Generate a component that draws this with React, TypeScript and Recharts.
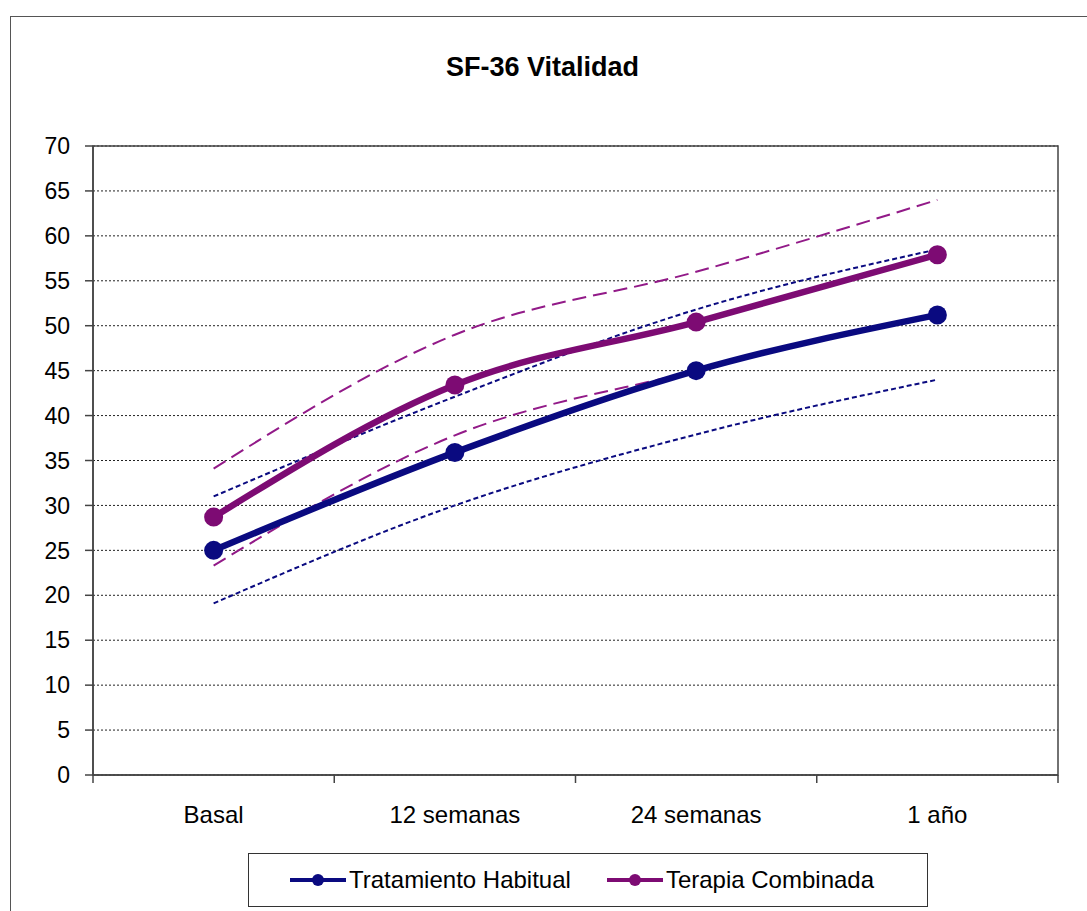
import { CartesianGrid, Line, LineChart, ReferenceArea, XAxis, YAxis } from "recharts";

// SF-36 vitality scores with confidence bands per visit
const categories = ["Basal", "12 semanas", "24 semanas", "1 año"];
const habitual = [25.0, 35.9, 45.0, 51.2];
const habitualUpper = [31.0, 42.1, 51.8, 58.5];
const habitualLower = [19.1, 30.0, 37.9, 44.0];
const combinada = [28.7, 43.4, 50.4, 57.9];
const combinadaUpper = [34.1, 49.0, 56.0, 64.0];
const combinadaLower = [23.3, 37.8, 45.0, 51.4];
const yTicks = [0, 5, 10, 15, 20, 25, 30, 35, 40, 45, 50, 55, 60, 65, 70];

const NAVY = "#0a0a80";
const PLUM = "#7d0b73";
const FONT = "'Liberation Sans', Arial, sans-serif";
const AXIS = "#444";

const rows = categories.map((name, i) => ({
  name,
  habitual: habitual[i],
  habitualUpper: habitualUpper[i],
  habitualLower: habitualLower[i],
  combinada: combinada[i],
  combinadaUpper: combinadaUpper[i],
  combinadaLower: combinadaLower[i],
}));

// category label centred in its band, with tick marks on the band edges
function CategoryTick(props: any) {
  const { x, y, payload, index } = props;
  const half = payload.offset || 0;
  const last = index === categories.length - 1;
  const top = y - 2;
  return (
    <g>
      <line x1={x - half} y1={top} x2={x - half} y2={top + 8} stroke={AXIS} strokeWidth={1.5} />
      {last && <line x1={x + half} y1={top} x2={x + half} y2={top + 8} stroke={AXIS} strokeWidth={1.5} />}
      <text x={x} y={y + 29} dy="0.71em" textAnchor="middle" fill="#000" fontSize={24} fontFamily={FONT}>
        {payload.value}
      </text>
    </g>
  );
}

function LegendIcon({ color }: { color: string }) {
  return (
    <svg width={56} height={20} style={{ display: "block" }}>
      <line x1={0} y1={10} x2={56} y2={10} stroke={color} strokeWidth={4} />
      <circle cx={28} cy={10} r={6} fill={color} />
    </svg>
  );
}

export default function App() {
  return (
    <div style={{ position: "relative", width: 1087, height: 911, fontFamily: FONT, background: "#fff" }}>
      <style>{"body{margin:0;overflow:hidden}"}</style>
      <div
        style={{
          position: "absolute",
          left: 10,
          top: 16,
          width: 1100,
          height: 920,
          border: "1.5px solid #555",
          boxSizing: "border-box",
        }}
      />
      <div
        style={{
          position: "absolute",
          left: 0,
          width: 1087,
          top: 52,
          textAlign: "center",
          fontWeight: "bold",
          fontSize: 27,
          color: "#000",
        }}
      >
        <span style={{ marginLeft: -2 }}>SF-36 Vitalidad</span>
      </div>

      <LineChart
        width={1087}
        height={911}
        data={rows}
        margin={{ top: 146, right: 29, left: 33, bottom: 76 }}
        style={{ position: "absolute", left: 0, top: 0 }}
      >
        <CartesianGrid xAxisId="cat" yAxisId="v" vertical={false} stroke="#222" strokeDasharray="2 2" />
        <ReferenceArea yAxisId="v" xAxisId="cat" y1={0} y2={70} fill="none" stroke={AXIS} strokeWidth={1.5} ifOverflow="visible" />
        <XAxis
          xAxisId="cat"
          dataKey="name"
          scale="band"
          height={60}
          interval={0}
          tickLine={false}
          tickSize={0}
          stroke={AXIS}
          strokeWidth={1.5}
          tick={<CategoryTick />}
        />
        <YAxis
          yAxisId="v"
          width={60}
          domain={[0, 70]}
          ticks={yTicks}
          interval={0}
          tickSize={8}
          tickMargin={15}
          stroke={AXIS}
          strokeWidth={1.5}
          tick={{ fill: "#000", fontSize: 23, fontFamily: FONT }}
        />

        <Line
          xAxisId="cat"
          yAxisId="v"
          type="monotone"
          dataKey="habitualUpper"
          stroke={NAVY}
          strokeWidth={2}
          strokeDasharray="5 3"
          dot={false}
          isAnimationActive={false}
        />
        <Line
          xAxisId="cat"
          yAxisId="v"
          type="monotone"
          dataKey="habitualLower"
          stroke={NAVY}
          strokeWidth={2}
          strokeDasharray="5 3"
          dot={false}
          isAnimationActive={false}
        />
        <Line
          xAxisId="cat"
          yAxisId="v"
          type="monotone"
          dataKey="combinadaUpper"
          stroke="#921a88"
          strokeWidth={2}
          strokeDasharray="14 7"
          dot={false}
          isAnimationActive={false}
        />
        <Line
          xAxisId="cat"
          yAxisId="v"
          type="monotone"
          dataKey="combinadaLower"
          stroke="#921a88"
          strokeWidth={2}
          strokeDasharray="14 7"
          dot={false}
          isAnimationActive={false}
        />
        <Line
          xAxisId="cat"
          yAxisId="v"
          type="monotone"
          dataKey="habitual"
          name="Tratamiento Habitual"
          stroke={NAVY}
          strokeWidth={6.5}
          dot={{ r: 9.5, fill: NAVY, stroke: NAVY, strokeWidth: 0 }}
          isAnimationActive={false}
        />
        <Line
          xAxisId="cat"
          yAxisId="v"
          type="monotone"
          dataKey="combinada"
          name="Terapia Combinada"
          stroke={PLUM}
          strokeWidth={6.5}
          dot={{ r: 9.5, fill: PLUM, stroke: PLUM, strokeWidth: 0 }}
          isAnimationActive={false}
        />
      </LineChart>

      <div
        style={{
          position: "absolute",
          left: 248,
          top: 853,
          width: 680,
          height: 54,
          border: "1.5px solid #333",
          boxSizing: "border-box",
          display: "flex",
          alignItems: "center",
          fontSize: 24,
          color: "#000",
        }}
      >
        <div style={{ display: "flex", alignItems: "center", marginLeft: 41 }}>
          <LegendIcon color={NAVY} />
          <span style={{ marginLeft: 3 }}>Tratamiento Habitual</span>
        </div>
        <div style={{ display: "flex", alignItems: "center", marginLeft: 36 }}>
          <LegendIcon color={PLUM} />
          <span style={{ marginLeft: 3 }}>Terapia Combinada</span>
        </div>
      </div>
    </div>
  );
}
